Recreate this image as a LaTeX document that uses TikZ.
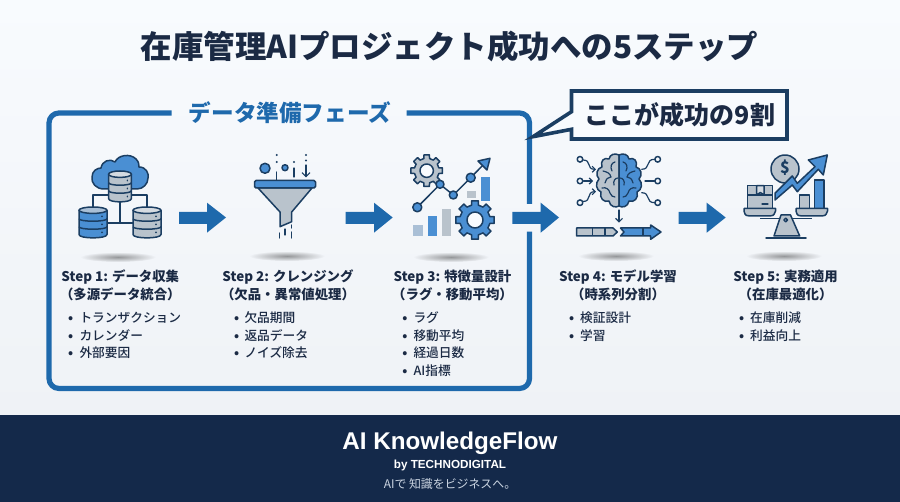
\documentclass[tikz,border=0pt]{standalone}
\usepackage{fontspec}
\setmainfont{Noto Sans CJK JP}
\newfontfamily\latinbold{Liberation Sans}
\newfontfamily\cjkmedium{Noto Sans CJK JP Medium}
\usetikzlibrary{arrows.meta,fadings}
\definecolor{bgtop}{HTML}{F8FBFE}
\definecolor{bgbot}{HTML}{EFF2F6}
\definecolor{ink}{HTML}{1B2A44}
\definecolor{frameblue}{HTML}{1E69AC}
\definecolor{navy}{HTML}{14294A}
\definecolor{outl}{HTML}{1B3E62}
\definecolor{midblue}{HTML}{4A8FD3}
\definecolor{paleblue}{HTML}{A9BFD6}
\definecolor{grayfill}{HTML}{B9C3CC}
\definecolor{lightgray}{HTML}{D5DBE1}
\definecolor{tagline}{HTML}{CBD5E2}
\tikzfading[name=ovalfade,inner color=transparent!62,outer color=transparent!100]
\tikzset{
  icon/.style={draw=outl,line width=1.5pt,line join=round},
  thin icon/.style={draw=outl,line width=1.2pt,line cap=round,line join=round},
  stephead/.style={anchor=base,inner sep=0pt,text=ink,font=\fontsize{13.4}{16}\selectfont\bfseries},
  bullet text/.style={anchor=base west,inner sep=0pt,text=ink,font=\cjkmedium\fontsize{12.7}{15}\selectfont},
  bullet mark/.style={anchor=base,inner sep=0pt,text=ink,font=\fontsize{12.7}{15}\selectfont\bfseries},
  framestroke/.style={draw=frameblue,line width=5.2pt,rounded corners=10pt},
}
\newcommand{\blockarrow}[3]{% left, head start, tip
  \fill[frameblue] (#1,212) -- (#2,212) -- (#2,202.7) -- (#3,217.5) -- (#2,232.7) -- (#2,224) -- (#1,224) -- cycle;}
\newcommand{\shadowoval}[2]{\fill[black,path fading=ovalfade] (#1,#2) ellipse (38 and 5);}
\newcommand{\dbicon}[6]{% cx, top, xscale, yscale, body, top
  \begin{scope}[shift={(#1,#2)},xscale=#3,yscale=#4]
    \filldraw[icon,fill=#5] (-14,3.5) -- (-14,27.5) .. controls (-14,32) and (14,32) .. (14,27.5) -- (14,3.5) -- cycle;
    \filldraw[icon,fill=#6] (0,3.2) ellipse (14 and 3.2);
    \draw[icon] (-14,11.7) .. controls (-14,15) and (14,15) .. (14,11.7);
    \draw[icon] (-14,19.7) .. controls (-14,23) and (14,23) .. (14,19.7);
    \fill[outl] (9,9.5) circle (1); \fill[outl] (9,17.5) circle (1); \fill[outl] (9,25.5) circle (1);
  \end{scope}}
\newcommand{\gearicon}[5]{% cx, cy, R, hole, fill
  \begin{scope}[shift={(#1,#2)}]
    \pgfmathsetmacro{\rin}{#3*0.78}
    \filldraw[icon,fill=#5] (-13:\rin) \foreach \a in {0,45,...,315}{
      -- ({\a-13}:\rin) -- ({\a-10}:#3) -- ({\a+10}:#3) -- ({\a+13}:\rin) -- ({\a+32}:\rin)} -- cycle;
    \filldraw[icon,fill=bgtop] (0,0) circle (#4);
  \end{scope}}
\newcommand{\brainhalf}[2]{% xscale sign, fill
  \begin{scope}[shift={(619,181)},xscale=#1]
    \filldraw[icon,fill=#2] (0,-26) .. controls (4,-28) and (9,-27) .. (10,-22) .. controls (15,-24) and (19,-20) .. (17,-14)
      .. controls (22,-13) and (24,-6) .. (20,-2) .. controls (24,2) and (23,9) .. (18,11)
      .. controls (20,17) and (15,22) .. (10,20) .. controls (9,26) and (3,27) .. (0,25) -- cycle;
    \draw[thin icon] (4,-19) .. controls (8,-18) and (9,-14) .. (7,-10);
    \draw[thin icon] (16,-10) .. controls (12,-9) and (9,-8) .. (8,-4) .. controls (12,-3) and (14,-1) .. (14,2);
    \draw[thin icon] (1,-3) .. controls (4,-3) and (6,0) .. (5,4);
    \draw[thin icon] (17,7) .. controls (13,6) and (10,8) .. (9,12) .. controls (8,15) and (6,16) .. (4,16);
  \end{scope}}
\begin{document}
\begin{tikzpicture}[x=1pt,y=-1pt]
\useasboundingbox (0,0) rectangle (900,502);
% background
\shade[top color=bgtop,bottom color=bgbot] (0,0) rectangle (900,415);
\fill[navy] (0,415) rectangle (900,502);
% title
\node[anchor=base,inner sep=0pt,text=ink,font=\fontsize{31.5}{36}\selectfont\bfseries] (title) at (449.5,59) {在庫管理AIプロジェクト成功への5ステップ};
% frame
\draw[framestroke] (171.7,113) -- (49,113) -- (49,388.5) -- (529.5,388.5) -- (529.5,231.7);
\draw[framestroke] (529.5,204) -- (529.5,113) -- (406.7,113);
\node[anchor=base,inner sep=0pt,text=frameblue,font=\fontsize{22.6}{26}\selectfont\bfseries] (phase) at (290,122) {データ準備フェーズ};
% callout
\filldraw[draw=outl,fill=bgtop,line width=3.6pt,line join=miter,miter limit=10] (571.5,91) -- (787,91) -- (787,139) -- (571.5,139) -- (571.5,129.3) -- (533,136.7) -- (571.5,111.7) -- cycle;
\node[anchor=base,inner sep=0pt,text=ink,font=\fontsize{25}{30}\selectfont\bfseries] (callout) at (680,124.5) {ここが成功の9割};
% shadows
\shadowoval{118}{257}
\shadowoval{287}{256}
\shadowoval{451}{257}
\shadowoval{616}{256}
\shadowoval{784}{256}
% icon 1: cloud + databases
\filldraw[icon,fill=midblue] (104,189) .. controls (96,189) and (91,183) .. (92,177) .. controls (92,171) and (97,168) .. (101,168)
  .. controls (102,161) and (110,158) .. (115,162) .. controls (118,155) and (130,153) .. (136,159) .. controls (139,162) and (139,165) .. (139,167)
  .. controls (146,167) and (149,173) .. (148,178) .. controls (148,184) and (143,189) .. (137,189) -- cycle;
\draw[icon] (108,195) -- (93,195) -- (93,208);
\draw[icon] (132,195) -- (147,195) -- (147,208);
\draw[icon] (120,200) -- (120,223);
\draw[icon] (107,223) -- (133,223);
\dbicon{120}{171}{0.82}{1}{grayfill}{lightgray}
\dbicon{93}{207}{1}{1}{midblue}{paleblue}
\dbicon{147}{207}{1}{1}{grayfill}{lightgray}
\blockarrow{179}{207}{226}
% icon 2: funnel
\filldraw[icon,fill=grayfill] (258,188) -- (280,212) -- (280,226.7) -- (291.7,221.7) -- (291.7,212) -- (312,188) -- cycle;
\filldraw[icon,fill=midblue,rounded corners=1.5pt] (254.5,180.5) rectangle (315.5,188);
\filldraw[icon,fill=midblue] (265,168.3) circle (5);
\filldraw[icon,fill=midblue] (285,167.7) circle (3);
\draw[thin icon] (276.7,172) -- (276.7,180);
\fill[outl] (276.7,155) circle (1.1); \fill[outl] (276.7,162) circle (1.1);
\draw[thin icon] (294,168) -- (294,177);
\fill[outl] (294,162) circle (1.1);
\draw[thin icon,-{Straight Barb[length=4pt,width=8pt]}] (306,165) -- (306,177.5);
\fill[outl] (306,155) circle (1.1); \fill[outl] (306,160.5) circle (1.1);
\draw[thin icon] (279.3,233) -- (279.3,238);
\draw[thin icon] (285,229) -- (285,235);
\draw[thin icon] (291.7,225) -- (291.7,228);
\draw[thin icon] (291.7,232) -- (291.7,238);
\blockarrow{345.7}{374}{392.7}
% icon 3: gears and chart
\gearicon{426.7}{170.7}{16}{6.7}{grayfill}
\gearicon{475}{220}{19.5}{8}{midblue}
\fill[paleblue] (413.3,225) rectangle (422.7,236);
\fill[midblue] (428,216) rectangle (436.7,236);
\fill[grayfill] (442,209) rectangle (451,236);
\fill[grayfill] (466.7,191) rectangle (475.7,198.3);
\fill[midblue] (481,176.7) rectangle (490,201);
\draw[outl,line width=1.5pt] (417.3,207.3) -- (440,184.3) -- (453.3,195) -- (470.7,177.7) -- (485,163);
\filldraw[icon,fill=midblue] (490,158.3) -- (487,170) -- (478,161) -- cycle;
\filldraw[icon,fill=midblue] (417.3,207.3) circle (4.5);
\filldraw[icon,fill=midblue] (440,184.3) circle (4);
\filldraw[icon,fill=midblue] (453.3,195) circle (4);
\filldraw[icon,fill=midblue] (470.7,177.7) circle (4.5);
\blockarrow{512.3}{540.7}{559}
% icon 4: brain
\brainhalf{-1}{grayfill}
\brainhalf{1}{midblue}
\foreach \yy in {159.3,181,202.7}{
  \draw[icon] (580,\yy) circle (2.8);
  \draw[icon] (657.7,\yy) circle (2.8);
}
\draw[thin icon,-{Straight Barb[length=3pt,width=6pt]}] (583,160) .. controls (592,160) and (586,169.3) .. (596,169.3);
\draw[thin icon,-{Straight Barb[length=3pt,width=6pt]}] (583.5,181) -- (593,181);
\draw[thin icon,-{Straight Barb[length=3pt,width=6pt]}] (583,201.5) .. controls (592,201.5) and (586,191.7) .. (596,191.7);
\draw[thin icon] (654.5,159.3) .. controls (645,159.3) and (651,169.3) .. (641.7,169.3);
\draw[thin icon] (645,181) -- (654.5,181);
\draw[thin icon] (654.5,202.7) .. controls (645,202.7) and (651,192.7) .. (641.7,192.7);
\draw[thin icon,-{Straight Barb[length=3.5pt,width=7pt]}] (619,210) -- (619,222.7);
\filldraw[icon,fill=grayfill] (576.7,228) -- (613,228) -- (617.3,232) -- (613,236) -- (576.7,236) -- cycle;
\draw[icon] (592.3,228) -- (592.3,236);
\draw[icon] (605,228) -- (605,236);
\filldraw[icon,fill=midblue] (620.5,228) -- (650.7,228) -- (650.7,225) -- (661,232) -- (650.7,239.3) -- (650.7,236) -- (620.5,236) -- (624,232) -- cycle;
\draw[icon] (643,228) -- (643,236);
\blockarrow{678.7}{706.7}{725.7}
% icon 5: scale
\filldraw[icon,fill=grayfill] (785,169) circle (14);
\node[inner sep=0pt,text=outl,font=\fontsize{16}{18}\selectfont\bfseries] (dollar) at (785,168) {\$};
\filldraw[icon,fill=midblue] (775,200) -- (775,193.3) -- (792.3,176) -- (797.3,183.3) -- (815,166.7) -- (808.3,160) -- (827.3,155) -- (823.3,175) -- (818.3,169.3) -- (797.3,191.7) -- (792.3,185) -- cycle;
\filldraw[icon,fill=grayfill] (747.3,185.7) rectangle (772.3,208.3);
\draw[icon] (747.3,195) -- (772.3,195);
\filldraw[icon,fill=lightgray] (756.7,185.7) -- (764,185.7) -- (764,195) -- (760.3,192.5) -- (756.7,195) -- cycle;
\draw[thin icon] (762,204) -- (768,204);
\filldraw[icon,fill=grayfill] (799.3,195) rectangle (809.3,208.3);
\filldraw[icon,fill=midblue] (814.3,180) rectangle (824,208.3);
\draw[icon] (760,218.7) -- (811.7,218.7);
\filldraw[icon,fill=grayfill] (744,208.5) -- (775.5,208.5) -- (775.5,211) .. controls (774,216) and (772,216) .. (770,216) -- (750,216) .. controls (747,216) and (745,216) .. (744,211) -- cycle;
\filldraw[icon,fill=grayfill] (796,208.5) -- (827.5,208.5) -- (827.5,211) .. controls (826,216) and (824,216) .. (822,216) -- (802,216) .. controls (799,216) and (797,216) .. (796,211) -- cycle;
\filldraw[icon,fill=grayfill] (781,215) -- (790.5,215) -- (799.7,236) -- (774,236) -- cycle;
\filldraw[icon,fill=lightgray] (785.7,220) circle (1.8);
\draw[icon,line cap=round] (766,238) -- (806,238);
% step 1
\node[stephead] (s1a) at (120.3,281.5) {Step 1: データ収集};
\node[stephead] (s1b) at (120.3,299.8) {（多源データ統合）};
\node[bullet mark] (s1m1) at (70.7,323) {•}; \node[bullet text] (s1t1) at (79.3,323) {トランザクション};
\node[bullet mark] (s1m2) at (70.7,340.6) {•}; \node[bullet text] (s1t2) at (79.3,340.6) {カレンダー};
\node[bullet mark] (s1m3) at (70.7,358) {•}; \node[bullet text] (s1t3) at (79.3,358) {外部要因};
% step 2
\node[stephead] (s2a) at (288,281.5) {Step 2: クレンジング};
\node[stephead] (s2b) at (288,299.8) {（欠品・異常値処理）};
\node[bullet mark] (s2m1) at (236.7,323) {•}; \node[bullet text] (s2t1) at (244.3,323) {欠品期間};
\node[bullet mark] (s2m2) at (236.7,340.6) {•}; \node[bullet text] (s2t2) at (244.3,340.6) {返品データ};
\node[bullet mark] (s2m3) at (236.7,358) {•}; \node[bullet text] (s2t3) at (244.3,358) {ノイズ除去};
% step 3
\node[stephead] (s3a) at (452.5,281.5) {Step 3: 特徴量設計};
\node[stephead] (s3b) at (452.5,299.8) {（ラグ・移動平均）};
\node[bullet mark] (s3m1) at (405,323) {•}; \node[bullet text] (s3t1) at (413.3,323) {ラグ};
\node[bullet mark] (s3m2) at (405,340.6) {•}; \node[bullet text] (s3t2) at (413.3,340.6) {移動平均};
\node[bullet mark] (s3m3) at (405,358) {•}; \node[bullet text] (s3t3) at (413.3,358) {経過日数};
\node[bullet mark] (s3m4) at (405,375.4) {•}; \node[bullet text] (s3t4) at (413.3,375.4) {AI指標};
% step 4
\node[stephead] (s4a) at (618,281.5) {Step 4: モデル学習};
\node[stephead] (s4b) at (618,299.8) {（時系列分割）};
\node[bullet mark] (s4m1) at (571.7,323) {•}; \node[bullet text] (s4t1) at (580,323) {検証設計};
\node[bullet mark] (s4m2) at (571.7,340.6) {•}; \node[bullet text] (s4t2) at (580,340.6) {学習};
% step 5
\node[stephead] (s5a) at (785.6,281.5) {Step 5: 実務適用};
\node[stephead] (s5b) at (785.6,299.8) {（在庫最適化）};
\node[bullet mark] (s5m1) at (741.7,323) {•}; \node[bullet text] (s5t1) at (750,323) {在庫削減};
\node[bullet mark] (s5m2) at (741.7,340.6) {•}; \node[bullet text] (s5t2) at (750,340.6) {利益向上};
% footer
\node[anchor=base,inner sep=0pt,text=white,font=\latinbold\fontsize{24.2}{27}\selectfont\bfseries] (brand) at (450,450) {AI KnowledgeFlow};
\node[anchor=base,inner sep=0pt,text=white,font=\latinbold\fontsize{11.7}{14}\selectfont\bfseries] (by) at (450,468.2) {by TECHNODIGITAL};
\node[anchor=base,inner sep=0pt,text=tagline,font=\fontsize{11.9}{14}\selectfont] (tag) at (450,488.4) {AIで 知識をビジネスへ。};
\end{tikzpicture}
\end{document}
